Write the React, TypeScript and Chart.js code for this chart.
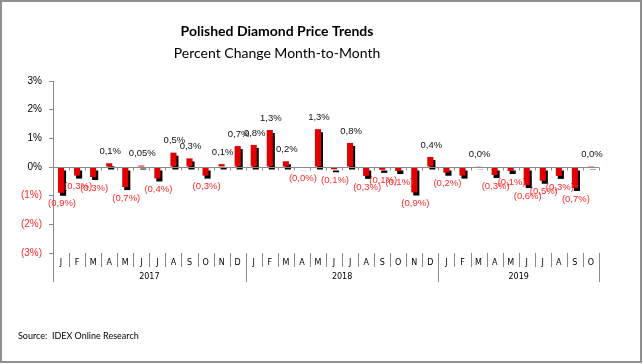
import React, { useEffect, useRef } from "react";
import { Chart, registerables } from "chart.js";

Chart.register(...registerables);

const months = [
  "J", "F", "M", "A", "M", "J", "J", "A", "S", "O", "N", "D",
  "J", "F", "M", "A", "M", "J", "J", "A", "S", "O", "N", "D",
  "J", "F", "M", "A", "M", "J", "J", "A", "S", "O",
];
const years = ["2017", "2018", "2019"];
const monthsPerYear = [12, 12, 10];

const values2017 = [-0.9, -0.3, -0.35, 0.13, -0.7, 0.05, -0.4, 0.5, 0.3, -0.3, 0.1, 0.73];
const values2018 = [0.77, 1.29, 0.2, -0.02, 1.32, -0.08, 0.84, -0.31, -0.1, -0.14, -0.89, 0.35];
const values2019 = [-0.2, -0.3, 0.01, -0.28, -0.14, -0.63, -0.48, -0.31, -0.73, 0.03];
const values = [...values2017, ...values2018, ...values2019];

const valueLabels = [
  "(0,9%)", "(0,3%)", "(0,3%)", "0,1%", "(0,7%)", "0,05%", "(0,4%)", "0,5%", "0,3%", "(0,3%)", "0,1%", "0,7%",
  "0,8%", "1,3%", "0,2%", "(0,0%)", "1,3%", "(0,1%)", "0,8%", "(0,3%)", "(0,1%)", "(0,1%)", "(0,9%)", "0,4%",
  "(0,2%)", "", "0,0%", "(0,3%)", "(0,1%)", "(0,6%)", "(0,5%)", "(0,3%)", "(0,7%)", "0,0%",
];

const yMin = -3;
const yMax = 3;

const titleText = "Polished Diamond Price Trends";
const subtitleText = "Percent Change Month-to-Month";
const sourceText = "Source:  IDEX Online Research";

const RED = "#E00000";
const LABEL_RED = "#FF2A2A";
const GRAY = "#8a8a8a";

const shadowPlugin = {
  id: "barShadow",
  beforeDatasetsDraw(chart: any) {
    const ctx = chart.ctx;
    ctx.save();
    ctx.shadowColor = "#000";
    ctx.shadowOffsetX = 2;
    ctx.shadowOffsetY = 3;
    ctx.shadowBlur = 0;
  },
  afterDatasetsDraw(chart: any) {
    chart.ctx.restore();
  },
};

const decorPlugin = {
  id: "decor",
  afterDraw(chart: any) {
    const ctx = chart.ctx;
    const { left, right, bottom } = chart.chartArea;
    const xs = chart.scales.x;
    const ys = chart.scales.y;
    const n = months.length;
    const w = (right - left) / n;
    const y0 = Math.round(ys.getPixelForValue(0)) + 0.5;

    ctx.save();
    // zero line with ticks
    ctx.strokeStyle = GRAY;
    ctx.lineWidth = 1;
    ctx.beginPath();
    ctx.moveTo(left, y0);
    ctx.lineTo(right, y0);
    for (let i = 0; i <= n; i++) {
      const x = Math.round(left + i * w) + 0.5;
      ctx.moveTo(x, y0);
      ctx.lineTo(x, y0 + 3);
    }
    ctx.stroke();

    // category separators
    const boundaries = new Set<number>();
    let acc = 0;
    boundaries.add(0);
    monthsPerYear.forEach((c) => {
      acc += c;
      boundaries.add(acc);
    });
    ctx.beginPath();
    for (let i = 0; i <= n; i++) {
      const x = Math.round(left + i * w) + 0.5;
      const long = boundaries.has(i);
      ctx.moveTo(x, bottom);
      ctx.lineTo(x, bottom + (long ? 29 : 14));
    }
    ctx.stroke();

    // year labels
    ctx.fillStyle = "#000";
    ctx.font = "8px 'DejaVu Sans'";
    ctx.textAlign = "center";
    ctx.textBaseline = "middle";
    let start = 0;
    monthsPerYear.forEach((c, k) => {
      const x1 = xs.getPixelForValue(start);
      const x2 = xs.getPixelForValue(start + c - 1);
      ctx.fillText(years[k], (x1 + x2) / 2, bottom + 24);
      start += c;
    });

    // value labels
    ctx.font = "9.5px 'Liberation Sans'";
    values.forEach((v, i) => {
      const t = valueLabels[i];
      if (!t) return;
      const x = xs.getPixelForValue(i);
      const yv = ys.getPixelForValue(v);
      const neg = t.startsWith("(");
      ctx.fillStyle = neg ? LABEL_RED : "#111";
      ctx.fillText(t, x + 1, neg ? Math.max(yv, y0) + 11 : Math.min(yv, y0) - 12);
    });

    // titles
    ctx.fillStyle = "#000";
    ctx.font = "bold 14px Lato";
    ctx.fillText(titleText, 277, 31);
    ctx.font = "14px Lato";
    ctx.fillText(subtitleText, 277, 53);

    ctx.font = "9px Lato";
    ctx.textAlign = "left";
    ctx.fillText(sourceText, 18, 336);

    // outer border
    ctx.strokeStyle = "#909090";
    ctx.lineWidth = 2;
    ctx.strokeRect(1, 1, 640, 361);
    ctx.restore();
  },
};

export default function App() {
  const ref = useRef<HTMLCanvasElement>(null);

  useEffect(() => {
    document.body.style.margin = "0";
    const canvas = ref.current;
    if (!canvas) return;
    const chart = new Chart(canvas, {
      type: "bar",
      data: {
        labels: months,
        datasets: [
          {
            data: values,
            backgroundColor: RED,
            borderWidth: 0,
            barPercentage: 0.38,
            categoryPercentage: 1,
          },
        ],
      },
      options: {
        responsive: false,
        animation: false,
        devicePixelRatio: 1,
        layout: { padding: { left: 0, top: 81, right: 44, bottom: 71 } },
        plugins: {
          legend: { display: false },
          tooltip: { enabled: false },
          title: { display: false },
        },
        scales: {
          x: {
            grid: { display: false, drawTicks: false },
            border: { display: false },
            ticks: {
              autoSkip: false,
              maxRotation: 0,
              padding: 5,
              color: "#000",
              font: { family: "'DejaVu Sans'", size: 8 },
            },
            afterFit: (s: any) => {
              s.height = 40;
            },
          },
          y: {
            min: yMin,
            max: yMax,
            ticks: {
              stepSize: 1,
              padding: 7,
              font: { family: "'Liberation Sans'", size: 10 },
              color: (c: any) => (c.tick && c.tick.value < 0 ? LABEL_RED : "#000"),
              callback: (v: any) => (v < 0 ? `(${-v}%)` : `${v}%`),
            },
            grid: { drawOnChartArea: false, tickLength: 4, color: GRAY },
            border: { color: GRAY },
            afterFit: (s: any) => {
              s.width = 53;
            },
          },
        },
      },
      plugins: [shadowPlugin, decorPlugin],
    });
    return () => chart.destroy();
  }, []);

  return <canvas ref={ref} width={643} height={364} style={{ display: "block", width: 643, height: 364 }} />;
}
